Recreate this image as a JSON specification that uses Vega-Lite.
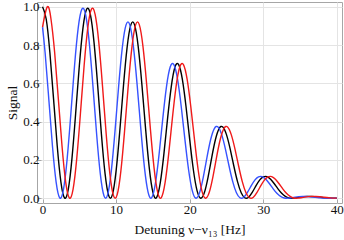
{
  "$schema": "https://vega.github.io/schema/vega-lite/v6.json",
  "width": 305,
  "height": 201,
  "autosize": {"type": "none"},
  "padding": {"left": 37, "top": 2, "right": 2, "bottom": 37},
  "background": "white",
  "config": {
    "font": "Liberation Serif",
    "view": {"stroke": "#a6a6a6", "strokeWidth": 1},
    "axis": {
      "labelFont": "Liberation Serif",
      "titleFont": "Liberation Serif",
      "labelFontSize": 13,
      "titleFontSize": 13.5,
      "titleFontWeight": "normal",
      "labelColor": "#111",
      "titleColor": "#111",
      "domain": false,
      "gridColor": "#e4e4e4",
      "gridWidth": 1,
      "tickColor": "#a6a6a6",
      "tickSize": -4
    }
  },
  "data": {
    "values": [
      {"s":"black","x":0,"y":1.0},{"s":"black","x":0.5,"y":0.9362},{"s":"black","x":1,"y":0.7611},{"s":"black","x":1.5,"y":0.5192},{"s":"black","x":2,"y":0.2725},{"s":"black","x":2.5,"y":0.0839},{"s":"black","x":3,"y":0.0015},{"s":"black","x":3.5,"y":0.0464},{"s":"black","x":4,"y":0.2068},{"s":"black","x":4.5,"y":0.4416},{"s":"black","x":5,"y":0.6906},{"s":"black","x":5.5,"y":0.8897},{"s":"black","x":6,"y":0.9879},{"s":"black","x":6.5,"y":0.9604},{"s":"black","x":7,"y":0.8141},{"s":"black","x":7.5,"y":0.587},{"s":"black","x":8,"y":0.3371},{"s":"black","x":8.5,"y":0.1282},{"s":"black","x":9,"y":0.0129},{"s":"black","x":9.5,"y":0.019},{"s":"black","x":10,"y":0.143},{"s":"black","x":10.5,"y":0.3507},{"s":"black","x":11,"y":0.5868},{"s":"black","x":11.5,"y":0.7892},{"s":"black","x":12,"y":0.9057},{"s":"black","x":12.5,"y":0.9067},{"s":"black","x":13,"y":0.7934},{"s":"black","x":13.5,"y":0.5961},{"s":"black","x":14,"y":0.366},{"s":"black","x":14.5,"y":0.161},{"s":"black","x":15,"y":0.0307},{"s":"black","x":15.5,"y":0.0034},{"s":"black","x":16,"y":0.0796},{"s":"black","x":16.5,"y":0.2329},{"s":"black","x":17,"y":0.4181},{"s":"black","x":17.5,"y":0.5834},{"s":"black","x":18,"y":0.6851},{"s":"black","x":18.5,"y":0.6982},{"s":"black","x":19,"y":0.6221},{"s":"black","x":19.5,"y":0.479},{"s":"black","x":20,"y":0.3071},{"s":"black","x":20.5,"y":0.1488},{"s":"black","x":21,"y":0.0399},{"s":"black","x":21.5,"y":0.0001},{"s":"black","x":22,"y":0.0296},{"s":"black","x":22.5,"y":0.1105},{"s":"black","x":23,"y":0.2135},{"s":"black","x":23.5,"y":0.3067},{"s":"black","x":24,"y":0.364},{"s":"black","x":24.5,"y":0.3725},{"s":"black","x":25,"y":0.3322},{"s":"black","x":25.5,"y":0.2577},{"s":"black","x":26,"y":0.1682},{"s":"black","x":26.5,"y":0.0865},{"s":"black","x":27,"y":0.0282},{"s":"black","x":27.5,"y":0.0018},{"s":"black","x":28,"y":0.0055},{"s":"black","x":28.5,"y":0.0307},{"s":"black","x":29,"y":0.0643},{"s":"black","x":29.5,"y":0.0946},{"s":"black","x":30,"y":0.1115},{"s":"black","x":30.5,"y":0.1127},{"s":"black","x":31,"y":0.0987},{"s":"black","x":31.5,"y":0.0754},{"s":"black","x":32,"y":0.0489},{"s":"black","x":32.5,"y":0.0257},{"s":"black","x":33,"y":0.0094},{"s":"black","x":33.5,"y":0.0013},{"s":"black","x":34,"y":0.0002},{"s":"black","x":34.5,"y":0.0023},{"s":"black","x":35,"y":0.0055},{"s":"black","x":35.5,"y":0.0081},{"s":"black","x":36,"y":0.0094},{"s":"black","x":36.5,"y":0.0092},{"s":"black","x":37,"y":0.0077},{"s":"black","x":37.5,"y":0.0057},{"s":"black","x":38,"y":0.0036},{"s":"black","x":38.5,"y":0.0019},{"s":"black","x":39,"y":0.0007},{"s":"black","x":39.5,"y":0.0001},{"s":"black","x":40,"y":0.0},
      {"s":"blue","x":0,"y":0.8937},{"s":"blue","x":0.35,"y":0.7611},{"s":"blue","x":0.85,"y":0.5192},{"s":"blue","x":1.35,"y":0.2725},{"s":"blue","x":1.85,"y":0.0839},{"s":"blue","x":2.35,"y":0.0015},{"s":"blue","x":2.85,"y":0.0464},{"s":"blue","x":3.35,"y":0.2068},{"s":"blue","x":3.85,"y":0.4416},{"s":"blue","x":4.35,"y":0.6906},{"s":"blue","x":4.85,"y":0.8897},{"s":"blue","x":5.35,"y":0.9879},{"s":"blue","x":5.85,"y":0.9604},{"s":"blue","x":6.35,"y":0.8141},{"s":"blue","x":6.85,"y":0.587},{"s":"blue","x":7.35,"y":0.3371},{"s":"blue","x":7.85,"y":0.1282},{"s":"blue","x":8.35,"y":0.0129},{"s":"blue","x":8.85,"y":0.019},{"s":"blue","x":9.35,"y":0.143},{"s":"blue","x":9.85,"y":0.3507},{"s":"blue","x":10.35,"y":0.5868},{"s":"blue","x":10.85,"y":0.7892},{"s":"blue","x":11.35,"y":0.9057},{"s":"blue","x":11.85,"y":0.9067},{"s":"blue","x":12.35,"y":0.7934},{"s":"blue","x":12.85,"y":0.5961},{"s":"blue","x":13.35,"y":0.366},{"s":"blue","x":13.85,"y":0.161},{"s":"blue","x":14.35,"y":0.0307},{"s":"blue","x":14.85,"y":0.0034},{"s":"blue","x":15.35,"y":0.0796},{"s":"blue","x":15.85,"y":0.2329},{"s":"blue","x":16.35,"y":0.4181},{"s":"blue","x":16.85,"y":0.5834},{"s":"blue","x":17.35,"y":0.6851},{"s":"blue","x":17.85,"y":0.6982},{"s":"blue","x":18.35,"y":0.6221},{"s":"blue","x":18.85,"y":0.479},{"s":"blue","x":19.35,"y":0.3071},{"s":"blue","x":19.85,"y":0.1488},{"s":"blue","x":20.35,"y":0.0399},{"s":"blue","x":20.85,"y":0.0001},{"s":"blue","x":21.35,"y":0.0296},{"s":"blue","x":21.85,"y":0.1105},{"s":"blue","x":22.35,"y":0.2135},{"s":"blue","x":22.85,"y":0.3067},{"s":"blue","x":23.35,"y":0.364},{"s":"blue","x":23.85,"y":0.3725},{"s":"blue","x":24.35,"y":0.3322},{"s":"blue","x":24.85,"y":0.2577},{"s":"blue","x":25.35,"y":0.1682},{"s":"blue","x":25.85,"y":0.0865},{"s":"blue","x":26.35,"y":0.0282},{"s":"blue","x":26.85,"y":0.0018},{"s":"blue","x":27.35,"y":0.0055},{"s":"blue","x":27.85,"y":0.0307},{"s":"blue","x":28.35,"y":0.0643},{"s":"blue","x":28.85,"y":0.0946},{"s":"blue","x":29.35,"y":0.1115},{"s":"blue","x":29.85,"y":0.1127},{"s":"blue","x":30.35,"y":0.0987},{"s":"blue","x":30.85,"y":0.0754},{"s":"blue","x":31.35,"y":0.0489},{"s":"blue","x":31.85,"y":0.0257},{"s":"blue","x":32.35,"y":0.0094},{"s":"blue","x":32.85,"y":0.0013},{"s":"blue","x":33.35,"y":0.0002},{"s":"blue","x":33.85,"y":0.0023},{"s":"blue","x":34.35,"y":0.0055},{"s":"blue","x":34.85,"y":0.0081},{"s":"blue","x":35.35,"y":0.0094},{"s":"blue","x":35.85,"y":0.0092},{"s":"blue","x":36.35,"y":0.0077},{"s":"blue","x":36.85,"y":0.0057},{"s":"blue","x":37.35,"y":0.0036},{"s":"blue","x":37.85,"y":0.0019},{"s":"blue","x":38.35,"y":0.0007},{"s":"blue","x":38.85,"y":0.0001},{"s":"blue","x":39.35,"y":0.0},{"s":"blue","x":39.85,"y":0.0001},{"s":"blue","x":40,"y":0.0001},
      {"s":"red","x":0,"y":0.8937},{"s":"red","x":0.65,"y":1.0},{"s":"red","x":1.15,"y":0.9362},{"s":"red","x":1.65,"y":0.7611},{"s":"red","x":2.15,"y":0.5192},{"s":"red","x":2.65,"y":0.2725},{"s":"red","x":3.15,"y":0.0839},{"s":"red","x":3.65,"y":0.0015},{"s":"red","x":4.15,"y":0.0464},{"s":"red","x":4.65,"y":0.2068},{"s":"red","x":5.15,"y":0.4416},{"s":"red","x":5.65,"y":0.6906},{"s":"red","x":6.15,"y":0.8897},{"s":"red","x":6.65,"y":0.9879},{"s":"red","x":7.15,"y":0.9604},{"s":"red","x":7.65,"y":0.8141},{"s":"red","x":8.15,"y":0.587},{"s":"red","x":8.65,"y":0.3371},{"s":"red","x":9.15,"y":0.1282},{"s":"red","x":9.65,"y":0.0129},{"s":"red","x":10.15,"y":0.019},{"s":"red","x":10.65,"y":0.143},{"s":"red","x":11.15,"y":0.3507},{"s":"red","x":11.65,"y":0.5868},{"s":"red","x":12.15,"y":0.7892},{"s":"red","x":12.65,"y":0.9057},{"s":"red","x":13.15,"y":0.9067},{"s":"red","x":13.65,"y":0.7934},{"s":"red","x":14.15,"y":0.5961},{"s":"red","x":14.65,"y":0.366},{"s":"red","x":15.15,"y":0.161},{"s":"red","x":15.65,"y":0.0307},{"s":"red","x":16.15,"y":0.0034},{"s":"red","x":16.65,"y":0.0796},{"s":"red","x":17.15,"y":0.2329},{"s":"red","x":17.65,"y":0.4181},{"s":"red","x":18.15,"y":0.5834},{"s":"red","x":18.65,"y":0.6851},{"s":"red","x":19.15,"y":0.6982},{"s":"red","x":19.65,"y":0.6221},{"s":"red","x":20.15,"y":0.479},{"s":"red","x":20.65,"y":0.3071},{"s":"red","x":21.15,"y":0.1488},{"s":"red","x":21.65,"y":0.0399},{"s":"red","x":22.15,"y":0.0001},{"s":"red","x":22.65,"y":0.0296},{"s":"red","x":23.15,"y":0.1105},{"s":"red","x":23.65,"y":0.2135},{"s":"red","x":24.15,"y":0.3067},{"s":"red","x":24.65,"y":0.364},{"s":"red","x":25.15,"y":0.3725},{"s":"red","x":25.65,"y":0.3322},{"s":"red","x":26.15,"y":0.2577},{"s":"red","x":26.65,"y":0.1682},{"s":"red","x":27.15,"y":0.0865},{"s":"red","x":27.65,"y":0.0282},{"s":"red","x":28.15,"y":0.0018},{"s":"red","x":28.65,"y":0.0055},{"s":"red","x":29.15,"y":0.0307},{"s":"red","x":29.65,"y":0.0643},{"s":"red","x":30.15,"y":0.0946},{"s":"red","x":30.65,"y":0.1115},{"s":"red","x":31.15,"y":0.1127},{"s":"red","x":31.65,"y":0.0987},{"s":"red","x":32.15,"y":0.0754},{"s":"red","x":32.65,"y":0.0489},{"s":"red","x":33.15,"y":0.0257},{"s":"red","x":33.65,"y":0.0094},{"s":"red","x":34.15,"y":0.0013},{"s":"red","x":34.65,"y":0.0002},{"s":"red","x":35.15,"y":0.0023},{"s":"red","x":35.65,"y":0.0055},{"s":"red","x":36.15,"y":0.0081},{"s":"red","x":36.65,"y":0.0094},{"s":"red","x":37.15,"y":0.0092},{"s":"red","x":37.65,"y":0.0077},{"s":"red","x":38.15,"y":0.0057},{"s":"red","x":38.65,"y":0.0036},{"s":"red","x":39.15,"y":0.0019},{"s":"red","x":39.65,"y":0.0007},{"s":"red","x":40,"y":0.0003}
    ]
  },
  "mark": {"type": "line", "interpolate": "natural", "strokeWidth": 1.4, "clip": true},
  "encoding": {
    "x": {
      "field": "x", "type": "quantitative",
      "scale": {"domain": [-0.75, 40.7], "nice": false, "zero": false},
      "axis": {"values": [0, 10, 20, 30, 40], "title": "Detuning ν−ν₁₃ [Hz]", "labelPadding": 4, "titlePadding": 6}
    },
    "y": {
      "field": "y", "type": "quantitative",
      "scale": {"domain": [-0.025, 1.025], "nice": false, "zero": false},
      "axis": {"values": [0, 0.2, 0.4, 0.6, 0.8, 1.0], "format": ".1f", "title": "Signal", "labelPadding": 2, "titlePadding": 3}
    },
    "color": {
      "field": "s", "type": "nominal",
      "scale": {"domain": ["red", "black", "blue"], "range": ["#f01a1a", "#000000", "#3652ff"]},
      "legend": null
    }
  }
}
